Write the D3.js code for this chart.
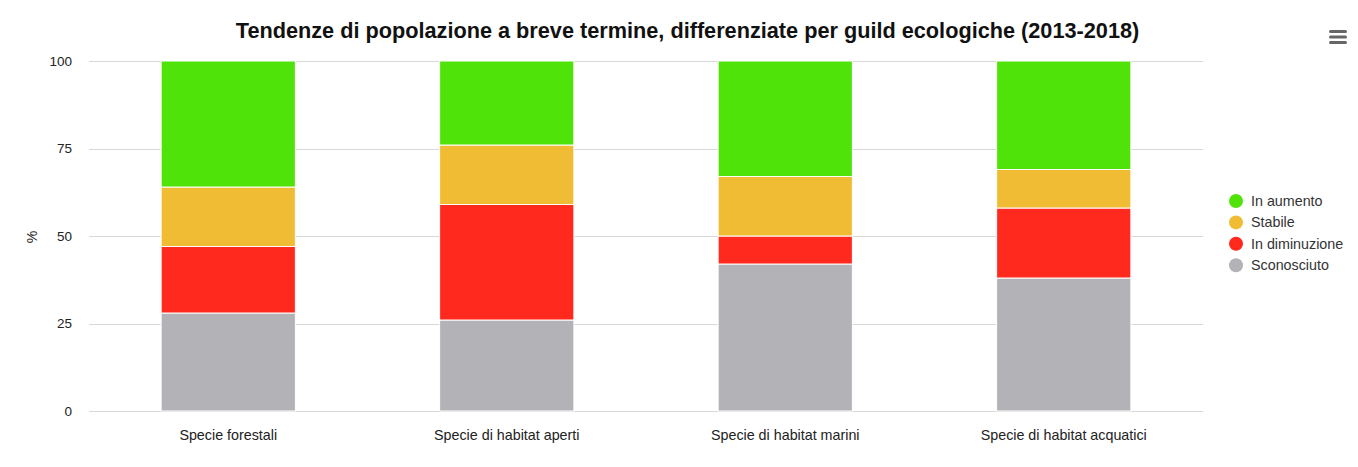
<!DOCTYPE html>
<html><head><meta charset="utf-8">
<script src="https://cdn.jsdelivr.net/npm/d3@7"></script>
<style>body{margin:0;background:#fff;font-family:"Liberation Sans",Arial,sans-serif;}</style>
</head><body><svg id="c" width="1358" height="467"></svg>
<script>
const categories = ["Specie forestali","Specie di habitat aperti","Specie di habitat marini","Specie di habitat acquatici"];
const seriesNames = ["Sconosciuto","In diminuzione","Stabile","In aumento"];
const sconosciuto = [28, 26, 42, 38];
const inDiminuzione = [19, 33, 8, 20];
const stabile = [17, 17, 17, 11];
const inAumento = [36, 24, 33, 31];
const yTicks = [0, 25, 50, 75, 100];
const colors = {"In aumento":"#50e30a","Stabile":"#f0bc34","In diminuzione":"#ff2a1d","Sconosciuto":"#b3b2b7"};
const legendOrder = ["In aumento","Stabile","In diminuzione","Sconosciuto"];

const svg = d3.select("#c");
const m = {l:89, r:1203, t:61, b:411};
const rows = categories.map((c,i)=>({cat:c,"Sconosciuto":sconosciuto[i],"In diminuzione":inDiminuzione[i],"Stabile":stabile[i],"In aumento":inAumento[i]}));
const stack = d3.stack().keys(seriesNames)(rows);
const x = d3.scaleBand().domain(categories).range([m.l,m.r]).paddingInner(0.518).paddingOuter(0.259);
const y = d3.scaleLinear().domain([0,100]).range([m.b,m.t]);

// grid
svg.append("g").selectAll("line").data(yTicks).join("line")
  .attr("x1",m.l).attr("x2",m.r).attr("y1",d=>Math.round(y(d))+0.5).attr("y2",d=>Math.round(y(d))+0.5)
  .attr("stroke","#d8d8d8").attr("stroke-width",1);

// y axis labels
const ya = svg.append("g").attr("transform",`translate(72,0)`).call(d3.axisLeft(y).tickValues(yTicks).tickSize(0).tickPadding(0));
ya.select(".domain").remove();
ya.selectAll("text").attr("font-family","Liberation Sans, Arial, sans-serif").attr("font-size",13.5).attr("fill","#222");

svg.append("text").attr("transform","translate(37,237) rotate(-90)").attr("text-anchor","middle")
  .attr("font-size",14).attr("fill","#222").text("%");

// bars
svg.append("g").selectAll("g").data(stack).join("g").attr("fill",d=>colors[d.key])
  .selectAll("rect").data(d=>d).join("rect")
  .attr("x",d=>x(d.data.cat)).attr("width",x.bandwidth())
  .attr("y",d=>y(d[1])).attr("height",d=>y(d[0])-y(d[1]))
  .attr("stroke","#fff").attr("stroke-width",1);

// x axis labels
const xa = svg.append("g").attr("transform",`translate(0,${m.b})`).call(d3.axisBottom(x).tickSize(0).tickPadding(19));
xa.select(".domain").remove();
xa.selectAll("text").attr("font-family","Liberation Sans, Arial, sans-serif").attr("font-size",14.3).attr("fill","#222");

// title
svg.append("text").attr("x",687.5).attr("y",38).attr("text-anchor","middle")
  .attr("font-size",21.7).attr("font-weight","bold").attr("fill","#111")
  .text("Tendenze di popolazione a breve termine, differenziate per guild ecologiche (2013-2018)");

// legend
const lg = svg.append("g").selectAll("g").data(legendOrder).join("g")
  .attr("transform",(d,i)=>`translate(1236,${201+i*21.4})`);
lg.append("circle").attr("r",7).attr("fill",d=>colors[d]);
lg.append("text").attr("x",15).attr("y",5).attr("font-size",14.3).attr("fill","#333").text(d=>d);

// menu icon
svg.append("g").selectAll("rect").data([0,1,2]).join("rect")
  .attr("x",1329).attr("y",d=>30+d*5.5).attr("width",18).attr("height",3).attr("rx",1.5).attr("fill","#666");
</script></body></html>
